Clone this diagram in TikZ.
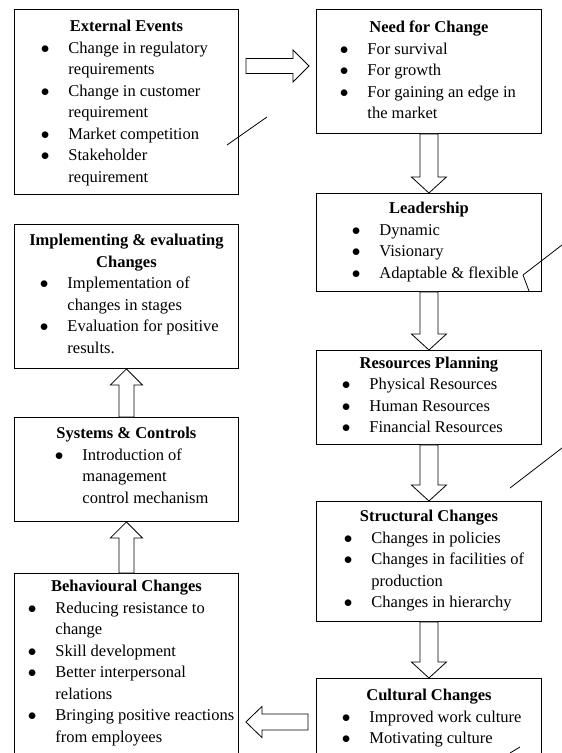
\documentclass[tikz,border=0pt]{standalone}
\usepackage{fontspec}
\setmainfont{Liberation Serif}
\usetikzlibrary{calc}

\tikzset{
  stage/.style={draw, line width=0.9pt, inner sep=0pt, anchor=north west},
  fatarrow/.style={draw, line width=0.8pt, fill=white, line join=miter},
  pen/.style={line width=0.8pt},
}

% width, height, baseline of title, title, list
\newcommand{\stagetext}[5]{%
  \parbox[t][#2pt][t]{#1pt}{\fontsize{16.5}{21.5}\selectfont
  {\centering\rule{0pt}{#3pt}\textbf{#4}\par}\raggedright #5}}

\newcommand{\dotmark}{\raisebox{0.2pt}{$\bullet$}}
\newenvironment{bul}[1]{\begin{list}{\dotmark}{%
  \setlength{\leftmargin}{#1pt}\setlength{\labelsep}{19pt}%
  \setlength{\labelwidth}{10pt}\setlength{\itemsep}{0pt}%
  \setlength{\topsep}{0pt}\setlength{\parsep}{0pt}%
  \setlength{\partopsep}{0pt}\setlength{\rightmargin}{0pt}}}{\end{list}}

% start, tip, half shaft, half head
\newcommand{\blockarrow}[4]{%
  \coordinate (hb) at ($(#2)!16pt!(#1)$);
  \draw[fatarrow] ($(#1)!#3!90:(#2)$) -- ($(hb)!#3!-90:(#1)$)
    -- ($(hb)!#4!-90:(#1)$) -- (#2) -- ($(hb)!#4!90:(#1)$)
    -- ($(hb)!#3!90:(#1)$) -- ($(#1)!#3!-90:(#2)$) -- cycle;}

\begin{document}
\begin{tikzpicture}[x=1pt,y=-1pt]
\clip (0,0) rectangle (562,753);

% right column
\node[stage] (need) at (316,9) {\stagetext{225}{124}{23.5}{Need for Change}{%
  \begin{bul}{51}\item For survival \item For growth
  \item For gaining an edge in\\the market\end{bul}}};
\node[stage] (lead) at (316,193) {\stagetext{225}{98}{20.5}{Leadership}{%
  \begin{bul}{63}\item Dynamic \item Visionary
  \item Adaptable \& flexible\end{bul}}};
\node[stage] (res) at (316,350) {\stagetext{225}{94}{18}{Resources Planning}{%
  \begin{bul}{53}\item Physical Resources \item Human Resources
  \item Financial Resources\end{bul}}};
\node[stage] (struc) at (316,501) {\stagetext{225}{120}{20.5}{Structural Changes}{%
  \begin{bul}{55}\item Changes in policies
  \item Changes in facilities of\\production
  \item Changes in hierarchy\end{bul}}};
\node[stage] (cult) at (316,678) {\stagetext{225}{90}{22.5}{Cultural Changes}{%
  \begin{bul}{53}\item Improved work culture
  \item Motivating culture\end{bul}}};

% left column
\node[stage] (ext) at (14,9) {\stagetext{224}{185}{22.5}{External Events}{%
  \begin{bul}{54}\item Change in regulatory\\requirements
  \item Change in customer\\requirement
  \item Market competition
  \item Stakeholder\\requirement\end{bul}}};
\node[stage] (impl) at (14,224) {\stagetext{224}{144}{21.5}{Implementing \& evaluating\\Changes}{%
  \begin{bul}{53}\item Implementation of\\changes in stages
  \item Evaluation for positive\\results.\end{bul}}};
\node[stage] (sys) at (14,417) {\stagetext{224}{104}{21.5}{Systems \& Controls}{%
  \begin{bul}{68}\item Introduction of\\management\\control mechanism\end{bul}}};
\node[stage] (beh) at (14,573) {\stagetext{224}{190}{18.5}{Behavioural Changes}{%
  \begin{bul}{41}\item Reducing resistance to\\change
  \item Skill development
  \item Better interpersonal\\relations
  \item Bringing positive reactions\\from employees\end{bul}}};

% arrows
\coordinate (t1) at ([xshift=-7pt,yshift=5.5pt]need.west);
\coordinate (s1) at ($(ext.east |- t1)+(7,0)$);
\blockarrow{s1}{t1}{7.5pt}{16pt}
\blockarrow{need.south}{lead.north}{9pt}{17.5pt}
\blockarrow{lead.south}{res.north}{9pt}{17.5pt}
\blockarrow{res.south}{struc.north}{9pt}{17.5pt}
\blockarrow{struc.south}{cult.north}{9pt}{17.5pt}
\coordinate (t2) at ($(beh.north east)+(7,149)$);
\coordinate (s2) at ($(cult.north west)+(-8,44)$);
\blockarrow{s2}{t2}{8pt}{15.5pt}
\blockarrow{beh.north}{sys.south}{7.5pt}{16pt}
\blockarrow{sys.north}{impl.south}{7.5pt}{16pt}

% pen marks
\draw[pen] (227,145) -- (267,117);
\draw[pen] (529,291) -- (523,275) -- (562,245);
\draw[pen] (510,488) -- (562,448);
\draw[pen] (510,753) -- (520,747);
\end{tikzpicture}
\end{document}
